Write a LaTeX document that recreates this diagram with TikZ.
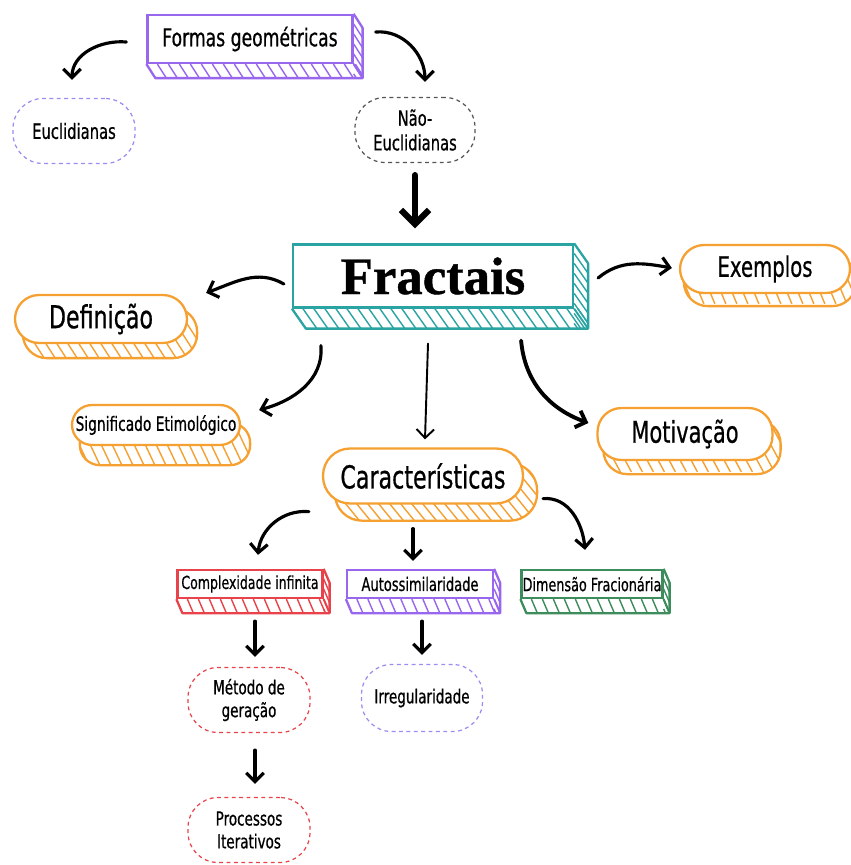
\documentclass[tikz,border=0pt]{standalone}
\usepackage{fontspec}
\usepackage{tikz}
\usetikzlibrary{arrows.meta,backgrounds,positioning}
\setmainfont{DejaVu Sans}[FakeStretch=0.7, FakeBold=0.6]
\newfontfamily\titlefont{Liberation Serif}[FakeBold=0.8]

\definecolor{mpurple}{HTML}{9966EE}
\definecolor{mteal}{HTML}{2AA3A3}
\definecolor{morange}{HTML}{F5A030}
\definecolor{mred}{HTML}{E8434A}
\definecolor{mgreen}{HTML}{3D8C5C}
\definecolor{mgray}{HTML}{555555}
\definecolor{mlilac}{HTML}{9A8CF0}

% hatched depth of a box: node, colour, dx, dy
\newcommand\slab[4]{%
  \begin{scope}[on background layer]
    \begin{scope}
      \clip (#1.south west) -- ++(#3,#4) -- ([shift={(#3,#4)}]#1.south east)
        -- ([shift={(#3,#4)}]#1.north east) -- (#1.north east) -- (#1.north west) -- cycle;
      \foreach \i in {0,...,40}
        \draw[#2, line width=0.8pt] ([shift={(\i*11,0)}]#1.south west) -- ++(2*#3,2*#4);
      \foreach \j in {0,...,10}
        \draw[#2, line width=0.8pt] ([shift={(0,\j*10)}]#1.north east) -- ++(2*#3,2*#4);
    \end{scope}
    \draw[#2, line width=1.3pt, line join=round] (#1.south west) -- ++(#3,#4) -- ([shift={(#3,#4)}]#1.south east)
      -- ([shift={(#3,#4)}]#1.north east) -- (#1.north east);
    \draw[#2, line width=1.1pt] (#1.south east) -- ++(#3,#4);
  \end{scope}}

% hatched depth of a pill: node, colour, corner radius, dx, dy
\newcommand\disc[5]{%
  \begin{scope}[on background layer]
    \begin{scope}
      \clip[rounded corners=#3] ([shift={(#4,#5)}]#1.south west) rectangle ([shift={(#4,#5)}]#1.north east);
      \foreach \i in {-8,...,25}
        \draw[#2, line width=0.8pt] ([shift={(\i*11,0)}]#1.north west) -- ++(5*#4,5*#5);
    \end{scope}
    \draw[#2, line width=1.3pt, rounded corners=#3] ([shift={(#4,#5)}]#1.south west) rectangle ([shift={(#4,#5)}]#1.north east);
  \end{scope}}

\begin{document}
\begin{tikzpicture}[x=0.02cm, y=-0.02cm,
    box/.style={draw=#1, fill=white, line width=1.3pt, inner sep=0pt, align=center},
    pill/.style={box=#1, rounded corners=0.48cm},
    cloud/.style={draw=#1, fill=white, line width=0.7pt, dash pattern=on 2.2pt off 2pt,
                  rounded corners=0.6cm, inner sep=0pt, align=center,
                  minimum width=2.44cm, minimum height=1.3cm},
    arr/.style={-{Straight Barb[length=5pt,width=10pt]}, line width=1.8pt, line cap=round}]
    \useasboundingbox (0,0) rectangle (851,865);

    % Top: geometric forms
    \node[box=mpurple, minimum width=4.1cm, minimum height=0.96cm, font=\fontsize{14}{16}\selectfont] (formas) at (250,39) {Formas geométricas};
    \node[cloud=mlilac, font=\fontsize{12}{14}\selectfont] (eucl) at (74,131) {Euclidianas};
    \node[cloud=mgray, minimum width=2.4cm, font=\fontsize{12}{14}\selectfont] (naoeucl) at (415,130) {Não-\\Euclidianas};
    \slab{formas}{mpurple}{9}{14}

    % Centre
    \node[box=mteal, minimum width=5.6cm, minimum height=1.26cm, font=\titlefont\bfseries\fontsize{30}{32}\selectfont] (fractais) at (433,276) {Fractais};
    \slab{fractais}{mteal}{14}{20}

    % Orange branches
    \node[pill=morange, minimum width=3.44cm, minimum height=0.96cm, font=\fontsize{18}{20}\selectfont] (definicao) at (101,319) {Definição};
    \node[pill=morange, minimum width=3.4cm, minimum height=0.96cm, font=\fontsize{16}{18}\selectfont] (exemplos) at (765,269) {Exemplos};
    \node[pill=morange, rounded corners=0.4cm, minimum width=3.36cm, minimum height=0.8cm, font=\fontsize{11.2}{13}\selectfont] (signif) at (156,425) {Significado Etimológico};
    \node[pill=morange, minimum width=3.5cm, minimum height=1.04cm, font=\fontsize{17}{19}\selectfont] (motiv) at (685,434) {Motivação};
    \node[pill=morange, rounded corners=0.54cm, minimum width=4cm, minimum height=1.1cm, font=\fontsize{18}{20}\selectfont] (caract) at (423,476) {Características};
    \disc{definicao}{morange}{0.48cm}{9}{14}
    \disc{exemplos}{morange}{0.48cm}{5}{12}
    \disc{signif}{morange}{0.4cm}{9}{19}
    \disc{motiv}{morange}{0.48cm}{7}{13}
    \disc{caract}{morange}{0.54cm}{13}{16}

    % Characteristics
    \node[box=mred, minimum width=2.9cm, minimum height=0.56cm, font=\fontsize{10.2}{12}\selectfont] (compl) at (250,584) {Complexidade infinita};
    \node[box=mpurple, minimum width=2.92cm, minimum height=0.56cm, font=\fontsize{10.6}{12}\selectfont] (auto) at (420,584) {Autossimilaridade};
    \node[box=mgreen, minimum width=2.82cm, minimum height=0.56cm, font=\fontsize{10.4}{12}\selectfont] (dim) at (592,584) {Dimensão Fracionária};
    \slab{compl}{mred}{6}{14}
    \slab{auto}{mpurple}{6}{14}
    \slab{dim}{mgreen}{6}{14}

    \node[cloud=mred, font=\fontsize{11}{13}\selectfont] (metodo) at (249,700) {Método de\\geração};
    \node[cloud=mlilac, minimum width=2.42cm, minimum height=1.34cm, font=\fontsize{11}{13}\selectfont] (irreg) at (422,698) {Irregularidade};
    \node[cloud=mred, font=\fontsize{11}{13}\selectfont] (processos) at (249,830) {Processos\\Iterativos};

    % Arrows
    \draw[arr] ([shift={(-20,3)}]formas.west) to[out=175,in=90] ([shift={(-2,-18)}]eucl.north);
    \draw[arr] ([shift={(22,-7)}]formas.east) to[out=5,in=90] ([shift={(10,-15)}]naoeucl.north);
    \draw[arr, line width=3.5pt, -{Straight Barb[length=8pt,width=16pt]}] ([shift={(0,12)}]naoeucl.south) -- ([shift={(-18,-15)}]fractais.north);
    \draw[arr] ([shift={(-8,8)}]fractais.west) to[out=150,in=20] ([shift={(18,-1)}]definicao.north east);
    \draw[arr] ([shift={(24,2)}]fractais.east) to[out=40,in=170] ([shift={(-7,-1)}]exemplos.west);
    \draw[arr] ([shift={(29,37)}]fractais.south west) to[out=-85,in=15] ([shift={(18,-15)}]signif.east);
    \draw[arr, line width=1.1pt] ([shift={(-5,35)}]fractais.south) -- ([shift={(2,-8)}]caract.north);
    \draw[arr, line width=2.2pt] ([shift={(-53,32)}]fractais.south east) to[out=-85,in=160] ([shift={(-8,-11)}]motiv.west);
    \draw[arr] ([shift={(-13,7)}]caract.south west) to[out=175,in=85] ([shift={(8,-14)}]compl.north);
    \draw[arr] ([shift={(-10,24)}]caract.south) -- ([shift={(-7,-8)}]auto.north);
    \draw[arr] ([shift={(19,-6)}]caract.south east) to[out=5,in=95] ([shift={(-7,-19)}]dim.north);
    \draw[arr] ([shift={(5,22)}]compl.south) -- ([shift={(6,-10)}]metodo.north);
    \draw[arr] ([shift={(2,22)}]auto.south) -- ([shift={(0,-9)}]irreg.north);
    \draw[arr] ([shift={(6,17)}]metodo.south) -- ([shift={(6,-13)}]processos.north);
\end{tikzpicture}
\end{document}
